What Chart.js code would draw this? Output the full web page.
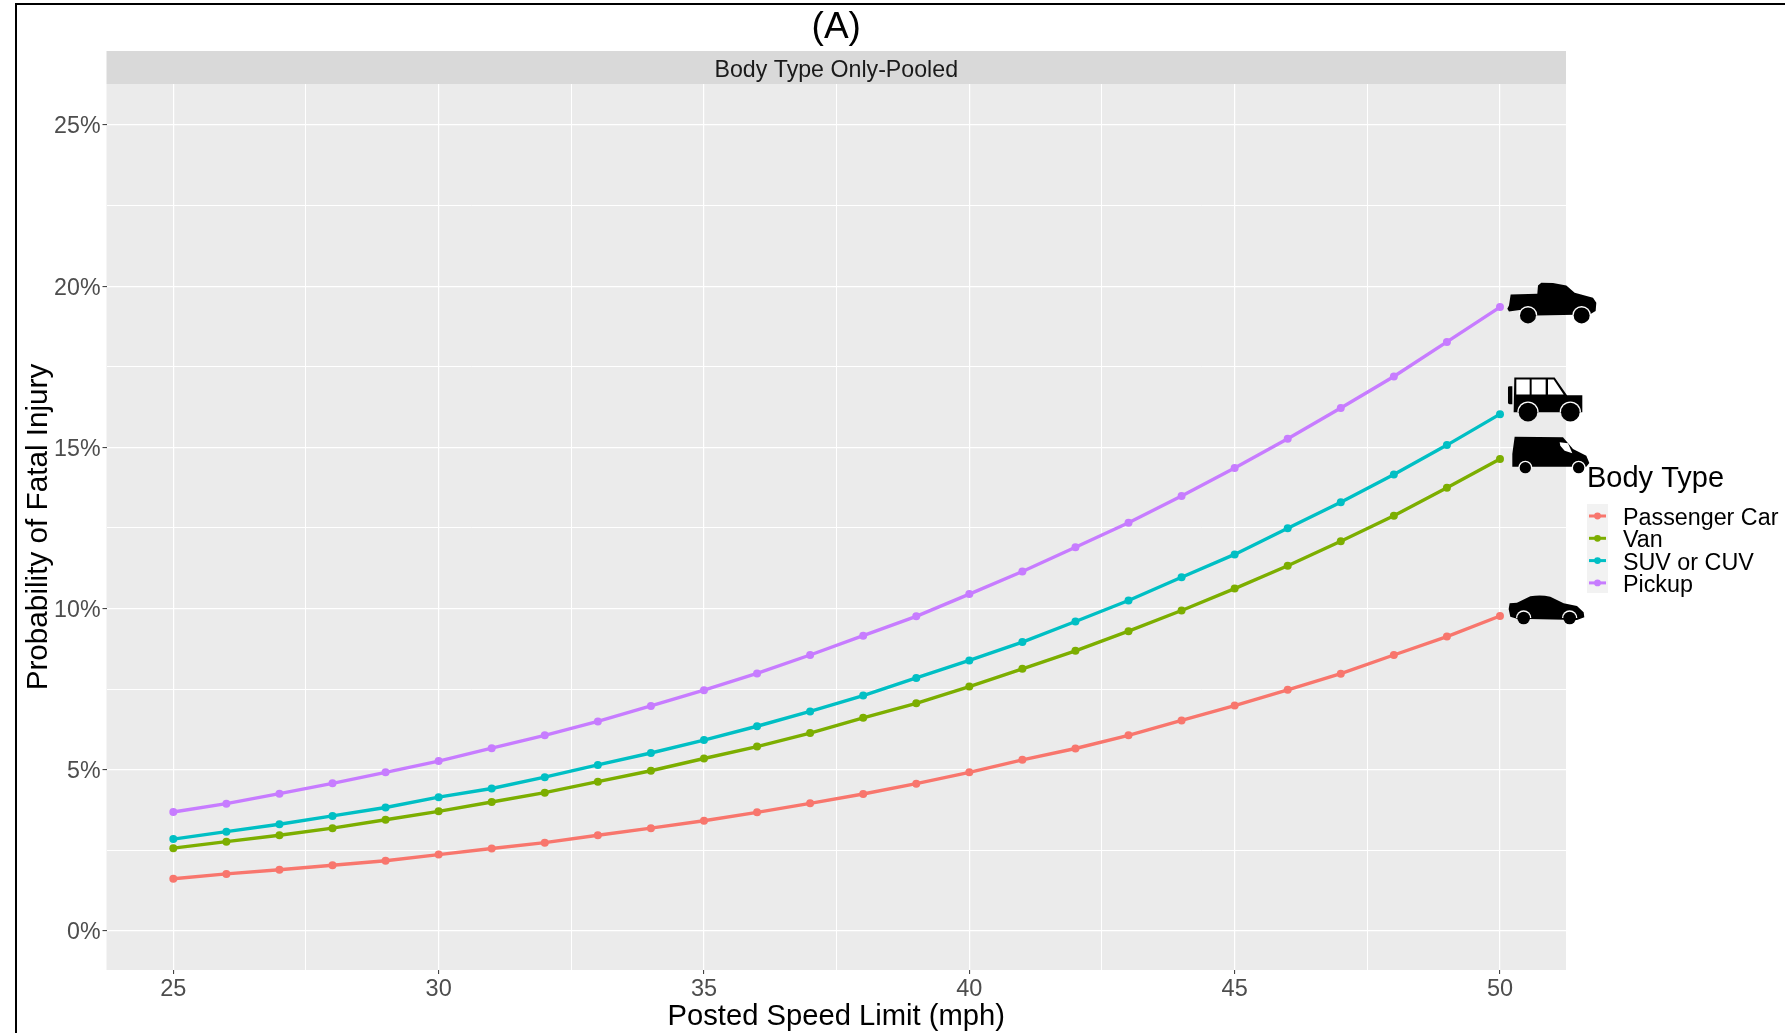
<!DOCTYPE html>
<html>
<head>
<meta charset="utf-8">
<title>Body Type Only-Pooled</title>
<style>
  html, body { margin: 0; padding: 0; background: #fff; }
  canvas { display: block; }
</style>
<script src="https://cdn.jsdelivr.net/npm/chart.js@4"></script>
</head>
<body>
<canvas id="chart" width="1785" height="1033"></canvas>
<script>
// ==========================
// DATA
// ==========================
const speedLimits = [25,26,27,28,29,30,31,32,33,34,35,36,37,38,39,40,41,42,43,44,45,46,47,48,49,50];
const passengerCar = [1.62,1.77,1.90,2.04,2.18,2.37,2.56,2.74,2.97,3.19,3.42,3.68,3.96,4.25,4.57,4.92,5.31,5.66,6.07,6.53,6.99,7.48,7.98,8.56,9.13,9.77];
const van = [2.57,2.77,2.97,3.19,3.45,3.71,4.00,4.29,4.63,4.97,5.35,5.72,6.14,6.61,7.06,7.58,8.13,8.69,9.30,9.94,10.62,11.33,12.09,12.88,13.75,14.64];
const suvOrCuv = [2.85,3.08,3.31,3.57,3.83,4.15,4.42,4.77,5.15,5.52,5.92,6.35,6.81,7.30,7.85,8.39,8.96,9.60,10.25,10.97,11.68,12.49,13.30,14.16,15.07,16.03];
const pickup = [3.69,3.95,4.26,4.58,4.92,5.27,5.67,6.07,6.50,6.98,7.47,7.99,8.56,9.16,9.76,10.45,11.15,11.90,12.66,13.49,14.36,15.27,16.22,17.20,18.27,19.35];

const seriesNames = ["Passenger Car", "Van", "SUV or CUV", "Pickup"];
const seriesValues = [passengerCar, van, suvOrCuv, pickup];
const seriesColors = ["#F8766D", "#7CAE00", "#00BFC4", "#C77CFF"];

const xTicks = [25,27.5,30,32.5,35,37.5,40,42.5,45,47.5,50];
const yTicks = [0,2.5,5,7.5,10,12.5,15,17.5,20,22.5,25];

const FONT = "'Liberation Sans', Arial, sans-serif";
Chart.defaults.font.family = FONT;

// ==========================
// VEHICLE ICONS (paths in 3x crop units, anchored on each line's last point)
// ==========================
const icons = [
  { series: 0, anchor: [59, 106],
    body: "M88 68 L110 66 L150 47 Q180 41 210 48 L250 68 L290 76 L310 95 L312 110 L290 118 L110 114 L90 108 L85 85 Z",
    wheels: [[130, 112, 19], [268, 112, 19]], holes: [] },
  { series: 1, anchor: [181, 595],
    body: "M225 528 L370 530 L400 565 L440 585 L449 607 L440 618 L218 618 L218 580 Z",
    wheels: [[257, 621, 17], [417, 621, 17]],
    holes: ["M360 545 L385 548 L398 578 L375 570 L362 555 Z"] },
  { series: 2, anchor: [181, 462],
    body: "M224 352 L345 352 L382 405 L428 405 L428 456 L222 456 Z M205 381 Q205 378 210 378 L218 378 L218 432 L210 432 Q205 432 205 428 Z",
    wheels: [[265, 456, 28], [392, 456, 28]],
    holes: ["M230 358 L270 358 L270 403 L230 403 Z", "M276 358 L318 358 L318 403 L276 403 Z", "M325 358 L342 358 L372 403 L325 403 Z"] },
  { series: 3, anchor: [181, 143],
    body: "M213 105 L293 103 L295 78 L305 70 L340 71 L380 78 L405 100 L460 115 L470 130 L468 155 L450 165 L290 168 L240 152 L208 156 L203 148 L208 138 Z",
    wheels: [[265, 168, 24], [426, 168, 24]], holes: [] }
];

// ==========================
// PLUGIN: panel, strip, frame, legend, icons
// ==========================
const decorations = {
  id: "decorations",
  beforeDraw(chart) {
    const { ctx, chartArea: a } = chart;
    ctx.save();
    ctx.fillStyle = "#EBEBEB";
    ctx.fillRect(a.left, a.top, a.right - a.left, a.bottom - a.top);
    ctx.fillStyle = "#D9D9D9";
    ctx.fillRect(a.left, 51, a.right - a.left, a.top - 51);
    ctx.fillStyle = "#1A1A1A";
    ctx.font = "23.2px " + FONT;
    ctx.textAlign = "center";
    ctx.textBaseline = "middle";
    ctx.fillText("Body Type Only-Pooled", (a.left + a.right) / 2, 70.5);

    ctx.strokeStyle = "#000";
    ctx.lineWidth = 2;
    ctx.beginPath();
    ctx.moveTo(16, 1033);
    ctx.lineTo(16, 4);
    ctx.lineTo(1785, 4);
    ctx.stroke();
    ctx.restore();
  },
  afterDraw(chart) {
    const { ctx, scales } = chart;
    ctx.save();

    icons.forEach(ic => {
      const vals = seriesValues[ic.series];
      const px = scales.x.getPixelForValue(speedLimits[speedLimits.length - 1]);
      const py = scales.y.getPixelForValue(vals[vals.length - 1]);
      ctx.save();
      ctx.translate(px, py);
      ctx.scale(1 / 3, 1 / 3);
      ctx.translate(-ic.anchor[0], -ic.anchor[1]);
      ctx.fillStyle = "#000";
      ctx.fill(new Path2D(ic.body));
      ctx.fillStyle = "#fff";
      ic.holes.forEach(h => ctx.fill(new Path2D(h)));
      ic.wheels.forEach(w => {
        // white ring only shows over the body, above the axle
        ctx.fillStyle = "#fff";
        ctx.beginPath();
        ctx.arc(w[0], w[1], w[2] + 4, Math.PI, Math.PI * 2);
        ctx.fill();
        ctx.fillStyle = "#000";
        ctx.beginPath();
        ctx.arc(w[0], w[1], w[2], 0, Math.PI * 2);
        ctx.fill();
      });
      ctx.restore();
    });

    // legend
    ctx.fillStyle = "#000";
    ctx.font = "29px " + FONT;
    ctx.textAlign = "left";
    ctx.textBaseline = "middle";
    ctx.fillText("Body Type", 1587, 479);

    ctx.fillStyle = "#F2F2F2";
    ctx.fillRect(1587, 504, 21, 89);
    ctx.font = "23.3px " + FONT;
    seriesNames.forEach((name, i) => {
      const y = 516 + i * 22.3;
      ctx.strokeStyle = seriesColors[i];
      ctx.lineWidth = 3;
      ctx.beginPath();
      ctx.moveTo(1589, y);
      ctx.lineTo(1606, y);
      ctx.stroke();
      ctx.fillStyle = seriesColors[i];
      ctx.beginPath();
      ctx.arc(1597.5, y, 3.4, 0, Math.PI * 2);
      ctx.fill();
      ctx.fillStyle = "#000";
      ctx.fillText(name, 1623, y + 2.5);
    });
    ctx.restore();
  }
};

// ==========================
// CHART
// ==========================
const gridWidth = (ctx, step) => (ctx.tick && ctx.tick.value % step === 0 ? 1.2 : 1);

new Chart(document.getElementById("chart").getContext("2d"), {
  type: "line",
  data: {
    datasets: seriesNames.map((name, i) => ({
      label: name,
      data: speedLimits.map((x, j) => ({ x: x, y: seriesValues[i][j] })),
      borderColor: seriesColors[i],
      backgroundColor: seriesColors[i],
      borderWidth: 3.4,
      pointRadius: 4,
      pointBorderWidth: 0,
      tension: 0,
      fill: false,
      order: seriesNames.length - i
    }))
  },
  plugins: [decorations],
  options: {
    responsive: false,
    animation: false,
    layout: { autoPadding: false, padding: { left: 0, right: 219, top: 0, bottom: 0 } },
    plugins: {
      legend: { display: false },
      tooltip: { enabled: false },
      title: {
        display: true,
        text: "(A)",
        fullSize: false,
        color: "#000",
        font: { size: 37, weight: "normal" },
        padding: { top: 5.6, bottom: 34 }
      }
    },
    scales: {
      x: {
        type: "linear",
        min: 23.741,
        max: 51.244,
        afterBuildTicks: s => { s.ticks = xTicks.map(v => ({ value: v })); },
        afterFit: s => { s.height = 63; },
        border: { display: false },
        grid: {
          color: "#fff",
          lineWidth: ctx => gridWidth(ctx, 5),
          tickLength: 4,
          tickWidth: 1,
          tickColor: ctx => (ctx.tick && ctx.tick.value % 5 === 0 ? "#333333" : "rgba(0,0,0,0)")
        },
        ticks: {
          color: "#4D4D4D",
          font: { size: 23.5 },
          padding: 1,
          autoSkip: false,
          maxRotation: 0,
          callback: v => (v % 5 === 0 ? String(v) : "")
        },
        title: {
          display: true,
          text: "Posted Speed Limit (mph)",
          color: "#000",
          font: { size: 29.2 },
          padding: { top: 0, bottom: -1.5 }
        }
      },
      y: {
        type: "linear",
        min: -1.21,
        max: 26.27,
        afterBuildTicks: s => { s.ticks = yTicks.map(v => ({ value: v })); },
        afterFit: s => { s.width = 106.5; },
        border: { display: false },
        grid: {
          color: "#fff",
          lineWidth: ctx => gridWidth(ctx, 5),
          tickLength: 4,
          tickWidth: 1,
          tickColor: ctx => (ctx.tick && ctx.tick.value % 5 === 0 ? "#333333" : "rgba(0,0,0,0)")
        },
        ticks: {
          color: "#4D4D4D",
          font: { size: 23.2 },
          padding: 2,
          labelOffset: 2,
          autoSkip: false,
          callback: v => (v % 5 === 0 ? v + "%" : "")
        },
        title: {
          display: true,
          text: "Probability of Fatal Injury",
          color: "#000",
          font: { size: 29.7 },
          padding: { top: 21, bottom: 0 }
        }
      }
    }
  }
});
</script>
</body>
</html>
